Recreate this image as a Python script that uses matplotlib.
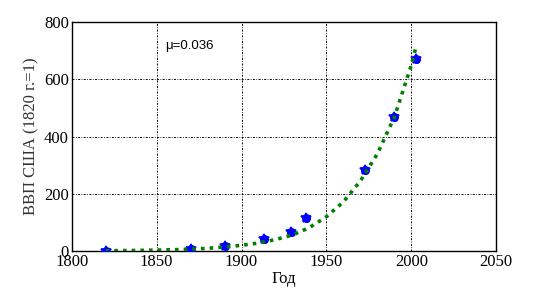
import matplotlib
matplotlib.use('Agg')
import matplotlib.pyplot as plt

# data points (US GDP index, 1820=1)
years = [1820, 1870, 1890, 1913, 1929, 1938, 1973, 1990, 2003]
gdp = [1, 8, 19, 41, 67, 114, 283, 470, 672]

# fitted curve
fit_years = [1820, 1830, 1840, 1850, 1860, 1870, 1880, 1890, 1900, 1910,
             1920, 1930, 1940, 1950, 1960, 1970, 1980, 1990, 2000, 2003]
fit_vals = [1, 1.5, 2.2, 3.2, 4.6, 6.5, 9.5, 14, 20, 28,
            40, 56, 82, 120, 172, 245, 340, 468, 650, 720]

plt.rcParams['font.family'] = ['Liberation Serif', 'DejaVu Serif']

fig = plt.figure(figsize=(5.49, 2.93), dpi=100)
ax = fig.add_axes([0.1306, 0.1433, 0.7733, 0.7806])

ax.plot(years, gdp, 'o', color='blue', ms=5.5, zorder=3)
ax.plot(years, gdp, '*', color='blue', ms=7.5, mew=1.2, zorder=3)
ax.plot(fit_years, fit_vals, color='green', lw=2.6, dashes=(1, 1.4),
        dash_capstyle='butt', zorder=4)

ax.set_xlim(1800, 2050)
ax.set_ylim(0, 800)
ax.set_xticks([1800, 1850, 1900, 1950, 2000, 2050])
ax.set_yticks([0, 200, 400, 600, 800])
ax.grid(True, color='black', lw=0.7, linestyle=(0, (2, 1.5, 0.8, 1.5)))
ax.tick_params(direction='in', length=0, labelsize=12, pad=2)
for s in ax.spines.values():
    s.set_linewidth(1.0)

ax.set_xlabel('Год', fontsize=12, labelpad=1)
ax.set_ylabel('ВВП США (1820 г.=1)', fontsize=12, color='#333333', labelpad=3)
ax.text(1855, 717, 'μ=0.036', fontsize=9.5, va='center',
        family=['Liberation Sans', 'DejaVu Sans'])

fig.savefig('out.png', dpi=100)
